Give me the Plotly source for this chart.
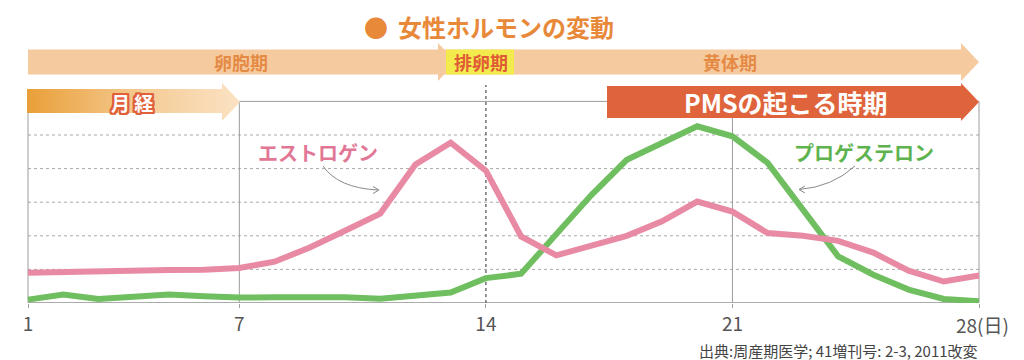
import plotly.graph_objects as go

# ---------------- data ----------------
days = list(range(1, 29))
estrogen = [0.90, 0.93, 0.95, 0.96, 0.98, 0.99, 1.04, 1.23, 1.65, 2.15, 2.66, 4.12, 4.77, 3.94,
            1.98, 1.42, 1.72, 2.00, 2.43, 3.02, 2.72, 2.08, 2.00, 1.85, 1.50, 0.96, 0.64, 0.82]
progesterone = [0.10, 0.25, 0.12, 0.19, 0.25, 0.20, 0.16, 0.17, 0.19, 0.17, 0.13, 0.22, 0.31, 0.74,
                0.87, 2.05, 3.22, 4.26, 4.76, 5.26, 4.96, 4.17, 2.78, 1.39, 0.84, 0.40, 0.12, 0.05]
tick_days = [1, 7, 14, 21, 28]
tick_labels = ["1", "7", "14", "21", ""]
grid_levels = [1, 2, 3, 4, 5]

FONT = "Noto Sans CJK JP"
PINK = "#E98AA5"
GREEN = "#6FBE5F"

# ------------- layout helpers (pixel -> axis units for decorations) -------------
W, H = 1024, 360
ML, MR, MT, MB = 10, 14, 0, 57
PX_DAY1, PX_DAY28 = 28, 979
PPD = (PX_DAY28 - PX_DAY1) / 27.0
PPU = 33.6
PY0 = H - MB
PLOT_H = H - MT - MB


def X(px):
    return 1 + (px - PX_DAY1) / PPD


def Y(py):
    return (PY0 - py) / PPU


def YP(py):
    return (PY0 - py) / PLOT_H


def poly(pts):
    return "M " + " L ".join(f"{X(a):.4f},{Y(b):.4f}" for a, b in pts) + " Z"


fig = go.Figure()

# 月経 arrow with gradient (decoration)
men_pts = [(27, 89), (222, 89), (222, 83), (240, 102), (222, 121), (222, 113), (27, 113), (27, 89)]
fig.add_trace(go.Scatter(
    x=[X(a) for a, b in men_pts], y=[Y(b) for a, b in men_pts],
    mode="lines", fill="toself", line=dict(width=0, color="rgba(0,0,0,0)"),
    fillgradient=dict(type="horizontal",
                      colorscale=[[0, "#E99F38"], [0.55, "#F5CC95"], [1, "#FBE2C4"]]),
    hoverinfo="skip", showlegend=False))

# data lines
fig.add_trace(go.Scatter(x=days, y=progesterone, mode="lines",
                         line=dict(color=GREEN, width=6), showlegend=False, hoverinfo="skip"))
fig.add_trace(go.Scatter(x=days, y=estrogen, mode="lines",
                         line=dict(color=PINK, width=6), showlegend=False, hoverinfo="skip"))

shapes = []
frame = dict(color="#9c9c9c", width=1)
# gridlines
for g in grid_levels:
    shapes.append(dict(type="line", layer="below", x0=1, x1=28, y0=g, y1=g,
                       line=dict(color="#a8a8a8", width=1, dash="dot")))
# frame
shapes.append(dict(type="line", layer="below", x0=1, x1=1, y0=0, y1=Y(113), line=frame))
shapes.append(dict(type="line", layer="below", x0=7, x1=7, y0=0, y1=6, line=frame))
shapes.append(dict(type="line", layer="below", x0=21, x1=21, y0=0, y1=6, line=frame))
shapes.append(dict(type="line", layer="below", x0=28, x1=28, y0=0, y1=6, line=frame))
shapes.append(dict(type="line", layer="below", x0=7, x1=28, y0=6, y1=6, line=frame))
shapes.append(dict(type="line", layer="below", x0=1, x1=28, y0=0, y1=0,
                   line=dict(color="#ababab", width=2)))
# ovulation dotted line
shapes.append(dict(type="line", layer="below", x0=14, x1=14, y0=Y(309), y1=Y(85),
                   line=dict(color="#707070", width=1.5, dash="dot")))

# phase arrows
shapes.append(dict(type="path", layer="above", line=dict(width=0), fillcolor="#F6CA9F",
                   path=poly([(28, 49.5), (961, 49.5), (961, 43), (979, 62), (961, 81),
                              (961, 74.5), (28, 74.5)])))
shapes.append(dict(type="path", layer="above", line=dict(width=0), fillcolor="#F6CA9F",
                   path=poly([(438, 43), (456, 62), (438, 81)])))
shapes.append(dict(type="path", layer="above", line=dict(width=0), fillcolor="#F3EA4E",
                   path=poly([(446, 49.5), (514, 49.5), (514, 74.5), (446, 74.5)])))
shapes.append(dict(type="path", layer="above", line=dict(width=0), fillcolor="#E0643B",
                   path=poly([(607, 86), (961, 86), (961, 83), (979, 102), (961, 121),
                              (961, 118), (607, 118)])))

# curved pointer arrows
arrow_line = dict(color="#8a8a8a", width=1)
shapes.append(dict(type="path", layer="above", line=arrow_line,
                   path=f"M {X(323)},{Y(166)} Q {X(338)},{Y(188)} {X(378)},{Y(190)}"))
shapes.append(dict(type="path", layer="above", line=arrow_line,
                   path=f"M {X(373)},{Y(186.5)} L {X(379)},{Y(190)} L {X(373)},{Y(193.5)}"))
shapes.append(dict(type="path", layer="above", line=arrow_line,
                   path=f"M {X(855)},{Y(166)} Q {X(832)},{Y(187)} {X(799)},{Y(189.5)}"))
shapes.append(dict(type="path", layer="above", line=arrow_line,
                   path=f"M {X(805)},{Y(186)} L {X(799)},{Y(189.5)} L {X(805)},{Y(193)}"))

ann = []


def text(px, py, s, size, color, bold=False, xanchor="center", shadow=None, paper_y=False):
    f = dict(family=FONT, size=size, color=color, weight=700 if bold else 400)
    if shadow:
        f["shadow"] = shadow
    a = dict(x=X(px), y=Y(py), text=s, showarrow=False, xanchor=xanchor,
             yanchor="middle", font=f)
    if paper_y:
        a["yref"] = "paper"
        a["y"] = YP(py)
    ann.append(a)


text(376, 26, "●", 24, "#E8893A")
text(396, 26, "女性ホルモンの変動", 24, "#E8893A", bold=True, xanchor="left")
text(241, 62, "卵胞期", 18, "#E58A45", bold=True)
text(481, 62, "排卵期", 18, "#E05A35", bold=True)
text(730, 62, "黄体期", 18, "#E58A45", bold=True)
outline = ", ".join(f"{dx}px {dy}px 0 #E0603A" for dx in (-2, -1, 0, 1, 2)
                    for dy in (-2, -1, 0, 1, 2) if (dx, dy) != (0, 0))
text(132, 102, "月 経", 19, "#FFFFFF", bold=True, shadow=outline)
text(786, 102, "PMSの起こる時期", 25, "#FFFFFF", bold=True)
text(318, 152, "エストロゲン", 20, "#E27795", bold=True)
text(864, 152, "プロゲステロン", 20, "#5EB34E", bold=True)
text(954, 324, "28(日)", 19, "#555555", xanchor="left", paper_y=True)
text(980, 350, "出典:周産期医学; 41増刊号: 2-3, 2011改変", 15, "#444444",
     xanchor="right", paper_y=True)

fig.update_layout(
    width=W, height=H,
    margin=dict(l=ML, r=MR, t=MT, b=MB, pad=0),
    paper_bgcolor="white", plot_bgcolor="white",
    showlegend=False, hovermode=False,
    shapes=shapes, annotations=ann,
    xaxis=dict(range=[X(ML), X(W - MR)], tickvals=tick_days, ticktext=tick_labels,
               ticks="outside", ticklen=4, tickcolor="#9c9c9c", showgrid=False,
               zeroline=False, showline=False, fixedrange=True,
               tickfont=dict(family=FONT, size=19, color="#555555")),
    yaxis=dict(range=[0, Y(MT)], visible=False, fixedrange=True),
)

fig.write_html("out.html", config={"displayModeBar": False, "staticPlot": True},
               post_script="document.body.style.margin='0';document.body.style.overflow='hidden';")
